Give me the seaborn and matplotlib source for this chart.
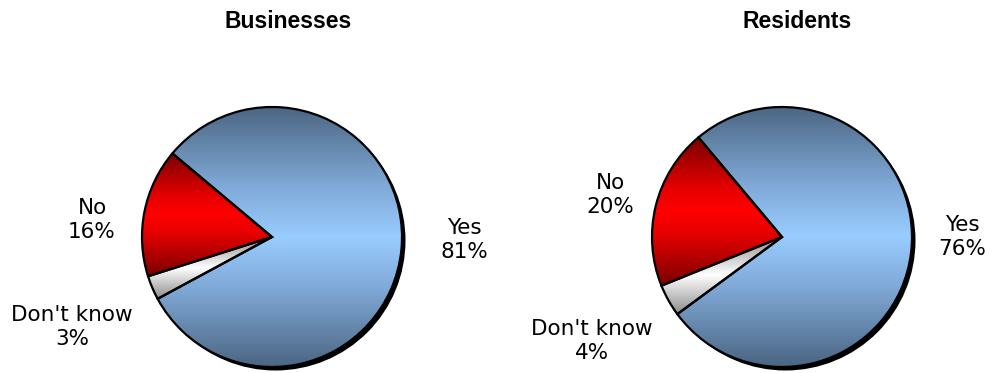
import numpy as np
import matplotlib
matplotlib.use("Agg")
import matplotlib.pyplot as plt
import seaborn as sns
from matplotlib.colors import LinearSegmentedColormap
from matplotlib.patches import Circle

# Survey answers, in percent
categories = ["Yes", "No", "Don't know"]
businesses = [81, 16, 3]
residents = [76, 20, 4]
groups = ["Businesses", "Residents"]

sns.set_theme(style="white")
plt.rcParams["font.family"] = ["DejaVu Sans"]

# vertical dark-light-dark ramps per answer
ramps = {
    "Yes": [(0.0, "#4b6582"), (0.3, "#7fa8d6"), (0.5, "#99ccff"),
            (0.7, "#7fa8d6"), (1.0, "#4b6582")],
    "No": [(0.0, "#7a0000"), (0.35, "#e60000"), (0.5, "#ff0000"),
           (0.65, "#e60000"), (1.0, "#7a0000")],
    "Don't know": [(0.0, "#8c8c8c"), (0.5, "#ffffff"), (1.0, "#8c8c8c")],
}

W, H = 990, 373
fig = plt.figure(figsize=(W / 100, H / 100), dpi=100)
ax = fig.add_axes([0, 0, 1, 1])

layout = [
    dict(center=(272, H - 237), title_xy=(288, H - 22),
         label_xy=[(464, H - 240), (92, H - 220), (72, H - 327)]),
    dict(center=(782, H - 237), title_xy=(797, H - 22),
         label_xy=[(962, H - 237), (610, H - 195), (592, H - 341)]),
]
radius = 130

for values, name, lay in zip([businesses, residents], groups, layout):
    cx, cy = lay["center"]
    # the "No" slice begins at the upper-left; Yes is drawn first, counter-clockwise
    no_start = 140 if name == "Businesses" else 130
    start = no_start - 360 * values[0] / sum(values)

    # drop shadow behind the pie
    ax.add_patch(Circle((cx + 3.5, cy - 3.5), radius, facecolor="black",
                        edgecolor="none", zorder=1))

    wedges, _ = ax.pie(values, startangle=start, center=(cx, cy), radius=radius,
                       colors=["white"] * len(values), frame=True,
                       wedgeprops=dict(edgecolor="black", linewidth=1.6))
    for w, cat in zip(wedges, categories):
        w.set_zorder(3)
        w.set_facecolor("none")
        verts = w.get_path().vertices
        x0, x1 = verts[:, 0].min(), verts[:, 0].max()
        y0, y1 = verts[:, 1].min(), verts[:, 1].max()
        cmap = LinearSegmentedColormap.from_list(cat, ramps[cat])
        grad = np.linspace(0, 1, 256).reshape(-1, 1)
        im = ax.imshow(grad, cmap=cmap, extent=[x0, x1, y0, y1], origin="lower",
                       aspect="auto", interpolation="bilinear", zorder=2)
        im.set_clip_path(w)

    for cat, v, (tx, ty) in zip(categories, values, lay["label_xy"]):
        ax.text(tx, ty, f"{cat}\n{v}%", ha="center", va="center",
                fontsize=15.5, color="black", linespacing=1.25, zorder=5)

    tx, ty = lay["title_xy"]
    ax.text(tx, ty, name, ha="center", va="center", fontsize=16.5,
            fontweight="bold", family=["Liberation Sans"], color="black")

ax.set_xlim(0, W)
ax.set_ylim(0, H)
ax.set_aspect("equal")
ax.axis("off")
fig.savefig("out.png", dpi=100, facecolor="white")
